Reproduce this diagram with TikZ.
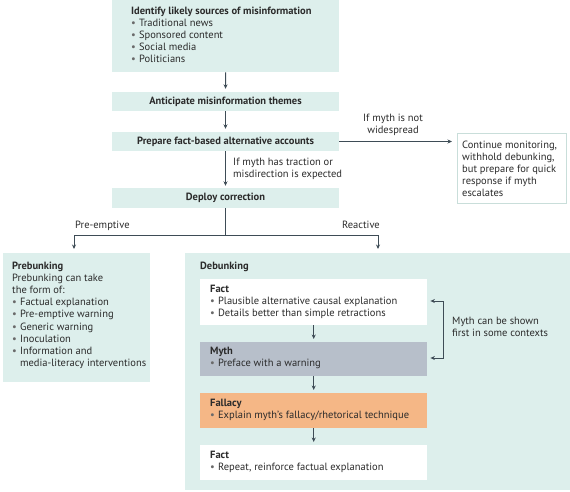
\documentclass[tikz,border=0pt]{standalone}
\usepackage{fontspec}
\setmainfont{PT Sans}
\usetikzlibrary{arrows.meta}
\definecolor{tealbg}{HTML}{DDEFEC}
\definecolor{contborder}{HTML}{C9DEDA}
\definecolor{arrowc}{HTML}{3E4C56}
\definecolor{mythc}{HTML}{B7BFCA}
\definecolor{fallc}{HTML}{F5B786}
\definecolor{textc}{HTML}{2B2B2B}
\definecolor{bulc}{HTML}{6A6A6A}
\newcommand{\bul}{\makebox[0.75em][l]{\textcolor{bulc}{\textbullet}}}
\newcommand{\bulind}{\hspace*{0.75em}}
\begin{document}
\begin{tikzpicture}[x=1pt,y=-1pt,
  box/.style={fill=tealbg, draw=none, inner sep=0pt, anchor=north west},
  wbox/.style={fill=white, draw=none, inner sep=0pt, anchor=north west},
  onebox/.style={fill=tealbg, draw=none, inner sep=0pt, anchor=center, minimum width=227pt, font=\fontsize{10.5}{12.2}\selectfont\bfseries, text=textc},
  txt/.style={anchor=north west, inner sep=0pt, align=left, font=\fontsize{10.5}{12.2}\selectfont, text=textc},
  conn/.style={draw=arrowc, line width=0.9pt},
  arr/.style={conn, -{Stealth[length=4.5pt,width=4pt]}},
  dblarr/.style={conn, {Stealth[length=4.5pt,width=4pt]}-{Stealth[length=4.5pt,width=4pt]}}]
\useasboundingbox (0,0) rectangle (570,491);

% top chain
\node[box, minimum width=227pt, minimum height=72pt] (src) at (112,0) {};
\node[txt] (srct) at (131,6.5) {\textbf{Identify likely sources of misinformation}\\
\bul Traditional news\\ \bul Sponsored content\\ \bul Social media\\ \bul Politicians};
\node[onebox, minimum height=19pt] (anti) at (225.5,101.5) {Anticipate misinformation themes};
\node[onebox, minimum height=19pt] (prep) at (225.5,141.5) {Prepare fact-based alternative accounts};
\node[onebox, minimum height=20pt] (dep) at (225.5,198) {Deploy correction};

\draw[arr, shorten >=3pt] (src) -- (anti);
\draw[arr, shorten >=3pt] (anti) -- (prep);
\draw[arr, shorten >=2pt] (prep) -- (dep);

% continue box
\node[wbox, draw=contborder, line width=0.8pt, minimum width=109pt, minimum height=70pt] (cont) at (457,133) {};
\node[txt] (contt) at (462,140.5) {Continue monitoring,\\withhold debunking,\\but prepare for quick\\response if myth\\escalates};
\draw[arr, shorten >=5pt] (prep.east) -- (prep.east -| cont.west);
\node[txt, anchor=south, align=center] (lbl1) at (393,136) {If myth is not\\widespread};
\node[txt] (lbl2) at (233,157.5) {If myth has traction or\\misdirection is expected};

% split
\coordinate (split) at (225.5,235);
\coordinate (lft) at (74,235);
\coordinate (rgt) at (378,235);

% prebunking
\node[box, minimum width=147pt, minimum height=129pt] (preb) at (3,253) {};
\node[txt] (prebt) at (12,261.5) {\textbf{Prebunking}\\Prebunking can take\\the form of:\\
\bul Factual explanation\\ \bul Pre-emptive warning\\ \bul Generic warning\\ \bul Inoculation\\
\bul Information and\\ \bulind media-literacy interventions};

% debunking
\node[box, minimum width=385pt, minimum height=237pt] (deb) at (185,253) {};
\node[txt, font=\fontsize{10.5}{12.2}\selectfont\bfseries] (debt) at (200,261.5) {Debunking};

\draw[conn] (dep.south) -- (split);
\draw[arr, shorten >=4pt] (split) -| (preb.north -| lft);
\draw[arr, shorten >=4pt] (split) -| (deb.north -| rgt);
\node[txt, anchor=base west] (pe) at (75,228.5) {Pre-emptive};
\node[txt, anchor=base east] (re) at (380,228.5) {Reactive};

\node[wbox, minimum width=227pt, minimum height=46pt] (fact1) at (200,279) {};
\node[txt] (fact1t) at (210,284.5) {\textbf{Fact}\\ \bul Plausible alternative causal explanation\\ \bul Details better than simple retractions};
\node[box, fill=mythc, minimum width=227pt, minimum height=34pt] (myth) at (200,342) {};
\node[txt] (mytht) at (210,346.5) {\textbf{Myth}\\ \bul Preface with a warning};
\node[box, fill=fallc, minimum width=227pt, minimum height=35pt] (fall) at (200,393) {};
\node[txt] (fallt) at (210,398.5) {\textbf{Fallacy}\\ \bul Explain myth’s fallacy/rhetorical technique};
\node[wbox, minimum width=227pt, minimum height=35pt] (fact2) at (200,445) {};
\node[txt] (fact2t) at (210,450.5) {\textbf{Fact}\\ \bul Repeat, reinforce factual explanation};

\draw[arr, shorten >=3pt] (fact1) -- (myth);
\draw[arr, shorten >=3pt] (myth) -- (fall);
\draw[arr, shorten >=3pt] (fall) -- (fact2);

\coordinate (b1) at (443,301);
\coordinate (b2) at (443,358);
\draw[dblarr, shorten <=3pt, shorten >=3pt] (b1 -| fact1.east) -- (b1) -- (b2) -- (b2 -| myth.east);
\node[txt] (lbl3) at (452,316.5) {Myth can be shown\\first in some contexts};
\end{tikzpicture}
\end{document}
